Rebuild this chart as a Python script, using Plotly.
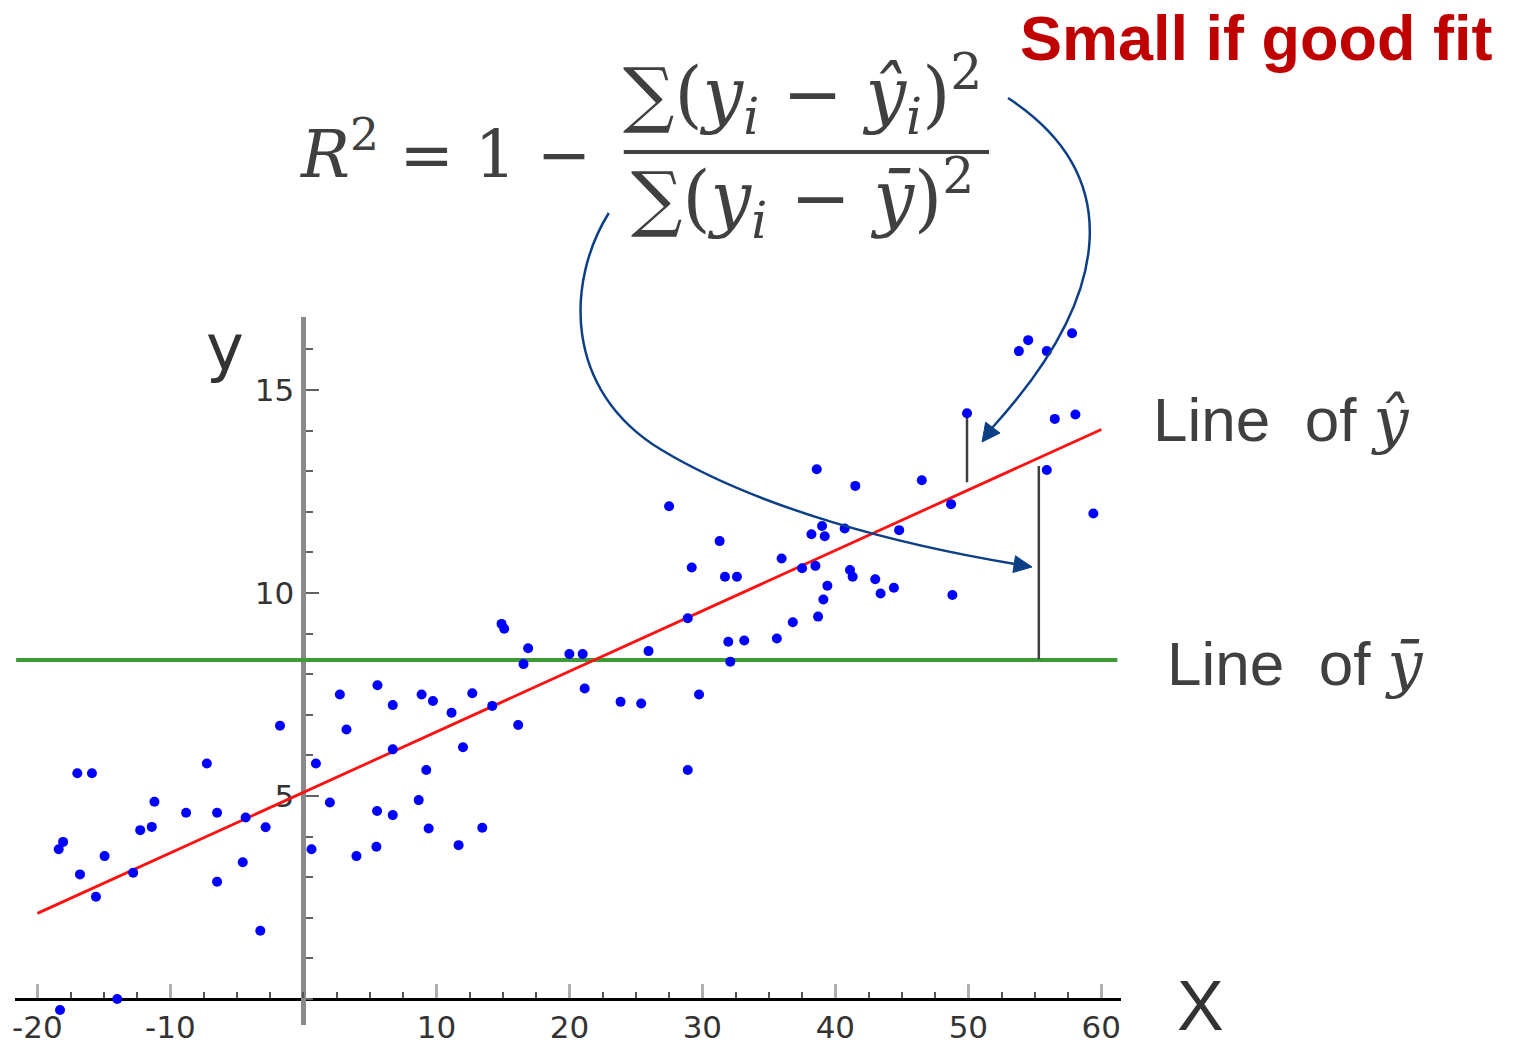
import plotly.graph_objects as go

W, H = 1516, 1048

# Observed sample (x, y)
x_obs = [-18.3, -14.0, -18.4, -18.07, -17.0, -15.9, -16.8, -15.6, -14.95, -12.8,
         -12.27, -11.4, -11.2, -8.82, -7.26, -6.49, -6.49, -4.56, -4.34, -3.24,
         -2.84, -1.76, 0.61, 0.94, 1.99, 2.74, 3.24, 3.99, 5.49, 5.54,
         5.57, 6.72, 6.72, 6.72, 8.67, 8.89, 9.24, 9.42, 9.74, 11.14,
         11.67, 12.0, 12.7, 13.45, 14.2, 14.9, 15.1, 16.15, 16.55, 16.9,
         20.0, 21.0, 21.15, 23.85, 25.4, 25.95, 27.5, 28.9, 28.9, 29.2,
         29.75, 31.3, 31.7, 31.95, 32.1, 32.6, 33.15, 35.6, 35.96, 36.8,
         37.5, 38.2, 38.5, 38.6, 38.7, 39.0, 39.1, 39.2, 39.4, 40.7,
         41.1, 41.3, 41.5, 43.0, 43.4, 44.4, 44.8, 46.5, 48.7, 48.8,
         49.9, 53.8, 54.5, 55.9, 55.9, 56.5, 57.8, 58.05, 59.4]
y_obs = [-0.27, 0.0, 3.69, 3.87, 5.56, 5.56, 3.07, 2.52, 3.52, 3.11,
         4.16, 4.24, 4.86, 4.59, 5.80, 4.59, 2.89, 3.37, 4.47, 1.68,
         4.23, 6.73, 3.69, 5.80, 4.84, 7.50, 6.64, 3.52, 3.75, 4.63,
         7.73, 7.24, 6.15, 4.53, 4.90, 7.50, 5.64, 4.20, 7.34, 7.05,
         3.79, 6.20, 7.53, 4.22, 7.22, 9.24, 9.12, 6.75, 8.25, 8.64,
         8.50, 8.50, 7.65, 7.32, 7.28, 8.57, 12.14, 9.38, 5.64, 10.63,
         7.50, 11.28, 10.40, 8.80, 8.31, 10.40, 8.83, 8.88, 10.85, 9.28,
         10.61, 11.45, 10.67, 13.05, 9.42, 11.65, 9.84, 11.40, 10.18, 11.59,
         10.57, 10.40, 12.64, 10.34, 9.99, 10.13, 11.55, 12.78, 12.19, 9.95,
         14.43, 15.96, 16.23, 15.96, 13.03, 14.29, 16.40, 14.40, 11.96]

# Fitted regression line (y-hat), given by its two end points
fit_x = [-20, 60]
fit_y = [2.11, 14.03]

# Mean of y (y-bar) and its horizontal extent
y_mean = 8.35
mean_span = [-21.6, 61.2]

# Residual segments highlighted on the plot
resid_x = [49.9, 55.3]
resid_top = [14.35, 13.13]
resid_bottom = [12.73, 8.37]

x_tick_vals = [-20, -10, 10, 20, 30, 40, 50, 60]
x_tick_text = ["-20", "-10", "10", "20", "30", "40", "50", "60"]
y_tick_vals = [5, 10, 15]
y_tick_text = ["5", "10", "15"]

X_RANGE = [-21.65, 61.5]
Y_RANGE = [-0.64, 16.8]

# plot area in page pixels
PX_LEFT, PX_RIGHT = 12.5, 1120.5
PY_TOP, PY_BOTTOM = 317, 1025

x_dom = [PX_LEFT / W, PX_RIGHT / W]
y_dom = [1 - PY_BOTTOM / H, 1 - PY_TOP / H]
# y axis sits at x = 0, x axis sits at y = 0
y_axis_pos = x_dom[0] + (0 - X_RANGE[0]) / (X_RANGE[1] - X_RANGE[0]) * (x_dom[1] - x_dom[0])
x_axis_pos = y_dom[0] + (0 - Y_RANGE[0]) / (Y_RANGE[1] - Y_RANGE[0]) * (y_dom[1] - y_dom[0])


def P(x, y):
    """page pixel -> paper coordinates string"""
    return f"{x / W:.5f},{1 - y / H:.5f}"


fig = go.Figure()

# line of y-bar
fig.add_trace(go.Scatter(x=mean_span, y=[y_mean, y_mean], mode="lines",
                         line=dict(color="#3e9a38", width=4), cliponaxis=False,
                         showlegend=False))

# residual segments
for xr, yt, yb in zip(resid_x, resid_top, resid_bottom):
    fig.add_trace(go.Scatter(x=[xr, xr], y=[yt, yb], mode="lines",
                             line=dict(color="#404040", width=2.5),
                             showlegend=False))

# regression line
fig.add_trace(go.Scatter(x=fit_x, y=fit_y, mode="lines",
                         line=dict(color="#ff1010", width=2.8), showlegend=False))

# observations
fig.add_trace(go.Scatter(x=x_obs, y=y_obs, mode="markers",
                         marker=dict(color="#0000ff", size=10, line=dict(width=0)),
                         cliponaxis=False, showlegend=False))

tick_font = dict(family="DejaVu Sans", size=31, color="#333333")

fig.update_layout(
    width=W, height=H, autosize=False,
    margin=dict(l=0, r=0, t=0, b=0),
    paper_bgcolor="white", plot_bgcolor="white",
    showlegend=False,
    xaxis=dict(domain=x_dom, range=X_RANGE, anchor="free", position=x_axis_pos,
               showline=True, linecolor="#000000", linewidth=3,
               showgrid=False, zeroline=False,
               tickmode="array", tickvals=x_tick_vals, ticktext=x_tick_text,
               ticks="inside", ticklen=14, tickwidth=3, tickcolor="#b0b0b0",
               minor=dict(ticks="inside", dtick=2.5, tick0=0, ticklen=6,
                          tickwidth=1.5, tickcolor="#555555", showgrid=False),
               tickfont=tick_font, ticklabelstandoff=0, layer="below traces"),
    yaxis=dict(domain=y_dom, range=Y_RANGE, anchor="free", position=y_axis_pos,
               showline=True, linecolor="#8a8a8a", linewidth=5,
               showgrid=False, zeroline=False,
               tickmode="array", tickvals=y_tick_vals, ticktext=y_tick_text,
               ticks="inside", ticklen=13, tickwidth=2, tickcolor="#606060",
               minor=dict(ticks="inside", dtick=1, tick0=0, ticklen=7,
                          tickwidth=1.5, tickcolor="#606060", showgrid=False),
               tickfont=tick_font, ticklabelstandoff=1, layer="below traces"),
)

ink = "#404040"
navy = "#0d3f87"
serif = "DejaVu Serif"
sans = "Liberation Sans"

annotations = [
    # axis names
    dict(text="y", x=222 / W, y=1 - 348 / H, font=dict(family="DejaVu Sans", size=64, color="#333333")),
    dict(text="X", x=1200 / W, y=1 - 1006 / H, font=dict(family=sans, size=70, color="#333333")),
    # formula
    dict(text="<i>R</i><sup>2</sup> = 1 −", x=296 / W, y=1 - 150 / H, xanchor="left",
         font=dict(family=serif, size=65, color=ink)),
    dict(text="∑(<i>y</i><sub><i>i</i></sub> − <i>ŷ</i><sub><i>i</i></sub>)<sup>2</sup>",
         x=801 / W, y=1 - 94 / H, font=dict(family=serif, size=72, color=ink)),
    dict(text="∑(<i>y</i><sub><i>i</i></sub> − <i>ȳ</i>)<sup>2</sup>",
         x=801 / W, y=1 - 198 / H, font=dict(family=serif, size=72, color=ink)),
    # callouts
    dict(text="Small if good fit", x=1255 / W, y=1 - 38 / H,
         font=dict(family=sans, size=63, color="#c00000", weight="bold")),
    dict(text="Line\u00a0\u00a0of <span style=\"font-family:'DejaVu Serif'\"><i>ŷ</i></span>",
         x=1150 / W, y=1 - 420 / H, xanchor="left",
         font=dict(family=sans, size=62, color=ink)),
    dict(text="Line\u00a0\u00a0of <span style=\"font-family:'DejaVu Serif'\"><i>ȳ</i></span>",
         x=1164 / W, y=1 - 663 / H, xanchor="left",
         font=dict(family=sans, size=62, color=ink)),
]
for a in annotations:
    a.setdefault("xanchor", "center")
    a.setdefault("yanchor", "middle")
    fig.add_annotation(xref="paper", yref="paper", showarrow=False, **a)

shapes = [
    # fraction bar
    dict(type="line", x0=622 / W, x1=988 / W, y0=1 - 152 / H, y1=1 - 152 / H,
         line=dict(color=ink, width=4)),
    # arrow from the numerator to the short residual
    dict(type="path", path=f"M{P(1007, 98)} C{P(1125, 175)} {P(1112, 295)} {P(991, 428)}",
         line=dict(color=navy, width=2.5)),
    dict(type="path", path=f"M{P(981, 442)} L{P(999, 433)} L{P(984.6, 422.2)} Z",
         line=dict(color=navy, width=1), fillcolor=navy),
    # arrow from the denominator to the long residual
    dict(type="path",
         path=f"M{P(607, 213)} C{P(565, 280)} {P(560, 390)} {P(660, 450)} "
              f"C{P(760, 510)} {P(900, 545)} {P(1014, 564)}",
         line=dict(color=navy, width=2.5)),
    dict(type="path", path=f"M{P(1031, 567)} L{P(1011.9, 572.5)} L{P(1014.5, 555.8)} Z",
         line=dict(color=navy, width=1), fillcolor=navy),
]
for s in shapes:
    fig.add_shape(xref="paper", yref="paper", layer="above", **s)

fig.write_html("out.html")
